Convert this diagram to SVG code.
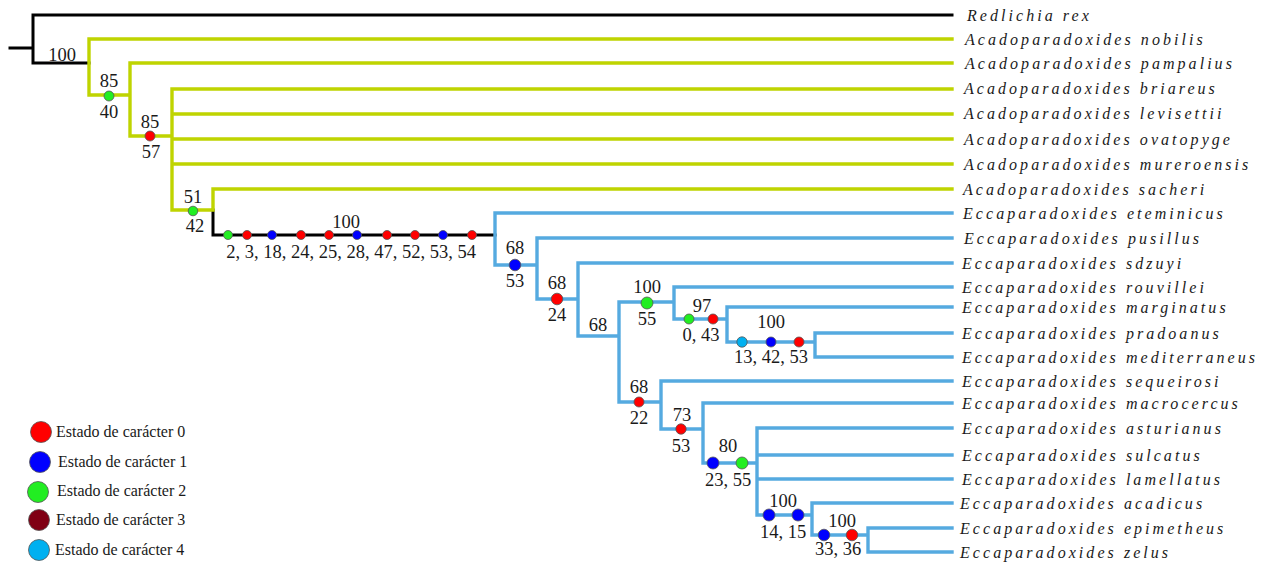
<svg xmlns="http://www.w3.org/2000/svg" width="1270" height="563" viewBox="0 0 1270 563">
  <style>
    .e { fill: none; stroke-width: 3.4; stroke-linecap: square; }
    .k { stroke: #000000; stroke-width: 3; }
    .y { stroke: #bfd400; }
    .b { stroke: #55aae0; }
    .tx { font-family: "Liberation Serif", "Times New Roman", serif; font-style: italic; font-size: 16px; letter-spacing: 3.05px; fill: #1a1a1a; }
    .n { font-family: "Liberation Serif", "Times New Roman", serif; font-size: 18.5px; fill: #1a1a1a; text-anchor: middle; }
    .lg { font-family: "Liberation Serif", "Times New Roman", serif; font-size: 16px; fill: #1a1a1a; }
    .d { stroke: #555; stroke-width: 0.8; }
    .s0 { fill: #ff0000; }
    .s1 { fill: #0000ff; }
    .s2 { fill: #22ee22; }
    .s3 { fill: #800014; }
    .s4 { fill: #00b0f0; }
  </style>

  <!-- branches -->
  <g id="connectors">
    <path class="e k" d="M10 48 H33 M33 15 V63 M33 15 H952 M33 63 H89 M213 210 V235 H495"/>
    <path class="e y" d="M89 39 V95 M89 39 H952 M89 95 H130
                         M130 63 V136 M130 63 H952 M130 136 H172
                         M172 89 V210 M172 89 H952 M172 114 H952 M172 139 H952 M172 164 H952 M172 210 H213
                         M213 189 V210 M213 189 H952"/>
    <path class="e b" d="M495 213 V265 M495 213 H952 M495 265 H537
                         M537 238 V299 M537 238 H952 M537 299 H578
                         M578 263 V336 M578 263 H952 M578 336 H619
                         M619 302 V402 M619 302 H674 M619 402 H661
                         M674 287 V319 M674 287 H952 M674 319 H727
                         M727 307 V342 M727 307 H952 M727 342 H815
                         M815 333 V357 M815 333 H952 M815 357 H952
                         M661 381 V429 M661 381 H952 M661 429 H703
                         M703 403 V463 M703 403 H952 M703 463 H757
                         M757 428 V515 M757 428 H952 M757 455 H952 M757 479 H952 M757 515 H812
                         M812 503 V535 M812 503 H952 M812 535 H868
                         M868 528 V552 M868 528 H952 M868 552 H952"/>
  </g>

  <!-- terminal taxa -->
  <g id="redlichia-rex"><text class="tx" x="967" y="21">Redlichia rex</text></g>
  <g id="a-nobilis"><text class="tx" x="965" y="45">Acadoparadoxides nobilis</text></g>
  <g id="a-pampalius"><text class="tx" x="965" y="69">Acadoparadoxides pampalius</text></g>
  <g id="a-briareus"><text class="tx" x="964" y="94">Acadoparadoxides briareus</text></g>
  <g id="a-levisettii"><text class="tx" x="964" y="119">Acadoparadoxides levisettii</text></g>
  <g id="a-ovatopyge"><text class="tx" x="964" y="145">Acadoparadoxides ovatopyge</text></g>
  <g id="a-mureroensis"><text class="tx" x="964" y="170">Acadoparadoxides mureroensis</text></g>
  <g id="a-sacheri"><text class="tx" x="963" y="195">Acadoparadoxides sacheri</text></g>
  <g id="e-eteminicus"><text class="tx" x="963" y="219">Eccaparadoxides eteminicus</text></g>
  <g id="e-pusillus"><text class="tx" x="964" y="244">Eccaparadoxides pusillus</text></g>
  <g id="e-sdzuyi"><text class="tx" x="962" y="269">Eccaparadoxides sdzuyi</text></g>
  <g id="e-rouvillei"><text class="tx" x="962" y="293">Eccaparadoxides rouvillei</text></g>
  <g id="e-marginatus"><text class="tx" x="962" y="313">Eccaparadoxides marginatus</text></g>
  <g id="e-pradoanus"><text class="tx" x="962" y="339">Eccaparadoxides pradoanus</text></g>
  <g id="e-mediterraneus"><text class="tx" x="962" y="363">Eccaparadoxides mediterraneus</text></g>
  <g id="e-sequeirosi"><text class="tx" x="962" y="387">Eccaparadoxides sequeirosi</text></g>
  <g id="e-macrocercus"><text class="tx" x="962" y="409">Eccaparadoxides macrocercus</text></g>
  <g id="e-asturianus"><text class="tx" x="962" y="434">Eccaparadoxides asturianus</text></g>
  <g id="e-sulcatus"><text class="tx" x="962" y="461">Eccaparadoxides sulcatus</text></g>
  <g id="e-lamellatus"><text class="tx" x="962" y="485">Eccaparadoxides lamellatus</text></g>
  <g id="e-acadicus"><text class="tx" x="960" y="509">Eccaparadoxides acadicus</text></g>
  <g id="e-epimetheus"><text class="tx" x="960" y="534">Eccaparadoxides epimetheus</text></g>
  <g id="e-zelus"><text class="tx" x="960" y="558">Eccaparadoxides zelus</text></g>

  <!-- internal nodes: support values, character changes -->
  <g id="node-root"><text class="n" x="62" y="61">100</text></g>
  <g id="node-85a">
    <text class="n" x="109" y="87">85</text>
    <circle class="d s2" cx="109" cy="96" r="5"/>
    <text class="n" x="109" y="118">40</text>
  </g>
  <g id="node-85b">
    <text class="n" x="150" y="128">85</text>
    <circle class="d s0" cx="150" cy="136" r="5"/>
    <text class="n" x="151" y="158">57</text>
  </g>
  <g id="node-51">
    <text class="n" x="193" y="203">51</text>
    <circle class="d s2" cx="193" cy="211" r="4.8"/>
    <text class="n" x="195" y="232">42</text>
  </g>
  <g id="node-eccaparadoxides">
    <text class="n" x="346" y="228">100</text>
    <circle class="d s2" cx="228" cy="235" r="4.5"/>
    <circle class="d s0" cx="247" cy="235" r="4.5"/>
    <circle class="d s1" cx="272" cy="235" r="4.5"/>
    <circle class="d s0" cx="301" cy="235" r="4.5"/>
    <circle class="d s0" cx="329" cy="235" r="4.5"/>
    <circle class="d s1" cx="357" cy="235" r="4.5"/>
    <circle class="d s0" cx="387" cy="235" r="4.5"/>
    <circle class="d s0" cx="415" cy="235" r="4.5"/>
    <circle class="d s1" cx="443" cy="235" r="4.5"/>
    <circle class="d s0" cx="472" cy="235" r="4.5"/>
    <text class="n" x="351" y="258">2, 3, 18, 24, 25, 28, 47, 52, 53, 54</text>
  </g>
  <g id="node-68a">
    <text class="n" x="515" y="254">68</text>
    <circle class="d s1" cx="515" cy="265" r="5.8"/>
    <text class="n" x="515" y="287">53</text>
  </g>
  <g id="node-68b">
    <text class="n" x="557" y="289">68</text>
    <circle class="d s0" cx="557" cy="299" r="5.8"/>
    <text class="n" x="557" y="321">24</text>
  </g>
  <g id="node-68c"><text class="n" x="598" y="331">68</text></g>
  <g id="node-100a">
    <text class="n" x="647" y="293">100</text>
    <circle class="d s2" cx="647" cy="303" r="6"/>
    <text class="n" x="647" y="325">55</text>
  </g>
  <g id="node-97">
    <text class="n" x="702" y="312">97</text>
    <circle class="d s2" cx="689" cy="319" r="5"/>
    <circle class="d s0" cx="713" cy="319" r="5"/>
    <text class="n" x="701" y="341">0, 43</text>
  </g>
  <g id="node-100b">
    <text class="n" x="771" y="328">100</text>
    <circle class="d s4" cx="742" cy="342" r="5.2"/>
    <circle class="d s1" cx="771" cy="342" r="5"/>
    <circle class="d s0" cx="799" cy="342" r="5"/>
    <text class="n" x="771" y="363">13, 42, 53</text>
  </g>
  <g id="node-68d">
    <text class="n" x="639" y="393">68</text>
    <circle class="d s0" cx="639" cy="402" r="5"/>
    <text class="n" x="639" y="424">22</text>
  </g>
  <g id="node-73">
    <text class="n" x="682" y="421">73</text>
    <circle class="d s0" cx="681" cy="429" r="5.2"/>
    <text class="n" x="681" y="452">53</text>
  </g>
  <g id="node-80">
    <text class="n" x="728" y="452">80</text>
    <circle class="d s1" cx="713" cy="463" r="6"/>
    <circle class="d s2" cx="742" cy="463" r="6"/>
    <text class="n" x="728" y="486">23, 55</text>
  </g>
  <g id="node-100c">
    <text class="n" x="783" y="507">100</text>
    <circle class="d s1" cx="769" cy="515" r="6"/>
    <circle class="d s1" cx="798" cy="515" r="6"/>
    <text class="n" x="783" y="538">14, 15</text>
  </g>
  <g id="node-100d">
    <text class="n" x="842" y="527">100</text>
    <circle class="d s1" cx="824" cy="535" r="5.8"/>
    <circle class="d s0" cx="852" cy="535" r="5.8"/>
    <text class="n" x="838" y="555">33, 36</text>
  </g>

  <!-- legend -->
  <g id="legend">
    <circle class="d s0" cx="41" cy="432" r="10.5"/>
    <text class="lg" x="56" y="437">Estado de carácter 0</text>
    <circle class="d s1" cx="40" cy="462" r="10.5"/>
    <text class="lg" x="58" y="467">Estado de carácter 1</text>
    <circle class="d s2" cx="38" cy="492" r="10.5"/>
    <text class="lg" x="57" y="496">Estado de carácter 2</text>
    <circle class="d s3" cx="39" cy="520" r="10.5"/>
    <text class="lg" x="56" y="525">Estado de carácter 3</text>
    <circle class="d s4" cx="39" cy="550" r="10.5"/>
    <text class="lg" x="55" y="555">Estado de carácter 4</text>
  </g>
</svg>
